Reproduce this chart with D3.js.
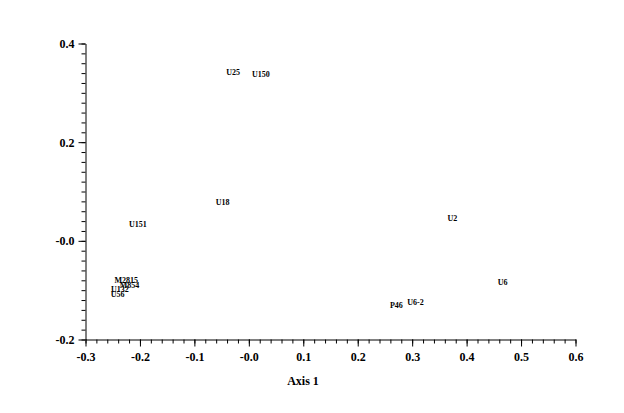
<!DOCTYPE html>
<html>
<head>
<meta charset="utf-8">
<script src="https://cdn.jsdelivr.net/npm/d3@7"></script>
<style>
html,body{margin:0;padding:0;background:#fff;}
svg{display:block;}
</style>
</head>
<body>
<svg id="chart" width="624" height="413"></svg>
<script>
// Data
const labels = ["U25","U150","U18","U151","U2","U6","P46","U6-2","M2815","M854","U132","U56"];
const axis1 =  [-0.029, 0.022, -0.048, -0.204, 0.374, 0.466, 0.271, 0.306, -0.225, -0.219, -0.237, -0.241];
const axis2 =  [0.342, 0.338, 0.078, 0.034, 0.046, -0.084, -0.131, -0.125, -0.080, -0.090, -0.099, -0.109];
const xTickValues = [-0.3,-0.2,-0.1,0,0.1,0.2,0.3,0.4,0.5,0.6];
const xTickLabels = ["-0.3","-0.2","-0.1","-0.0","0.1","0.2","0.3","0.4","0.5","0.6"];
const yTickValues = [-0.2,0,0.2,0.4];
const yTickLabels = ["-0.2","-0.0","0.2","0.4"];
const xMinor = d3.range(0,46).map(i => -0.3 + i*0.02);
const yMinor = d3.range(0,31).map(i => -0.2 + i*0.02);

const svg = d3.select("#chart");
const x = d3.scaleLinear().domain([-0.3,0.6]).range([85.5,575.5]);
const y = d3.scaleLinear().domain([-0.2,0.4]).range([339.5,43.5]);
const font = "'Liberation Serif','Times New Roman',serif";

// minor ticks
svg.append("g").attr("transform","translate(0,339.5)")
  .call(d3.axisBottom(x).tickValues(xMinor).tickSize(4).tickFormat(""))
  .call(g=>g.select(".domain").remove());
svg.append("g").attr("transform","translate(85.5,0)")
  .call(d3.axisLeft(y).tickValues(yMinor).tickSize(4).tickFormat(""))
  .call(g=>g.select(".domain").remove());

// major axes
const xAxis = svg.append("g").attr("transform","translate(0,339.5)")
  .call(d3.axisBottom(x).tickValues(xTickValues).tickSizeInner(7).tickSizeOuter(0).tickPadding(6)
    .tickFormat((d,i)=>xTickLabels[i]));
const yAxis = svg.append("g").attr("transform","translate(85.5,0)")
  .call(d3.axisLeft(y).tickValues(yTickValues).tickSizeInner(7).tickSizeOuter(0).tickPadding(4)
    .tickFormat((d,i)=>yTickLabels[i]));
[xAxis,yAxis].forEach(g=>{
  g.selectAll("text").attr("font-family",font).attr("font-size",12).attr("font-weight","bold").attr("fill","#000");
  g.selectAll("line,path").attr("stroke","#000");
});
svg.selectAll(".tick line").attr("stroke","#000");

svg.append("text").attr("x",303).attr("y",385).attr("text-anchor","middle")
  .attr("font-family",font).attr("font-size",12).attr("font-weight","bold").text("Axis 1");

// point labels
svg.append("g").selectAll("text").data(labels).join("text")
  .attr("x",(d,i)=>x(axis1[i]))
  .attr("y",(d,i)=>y(axis2[i]))
  .attr("dy","0.35em")
  .attr("text-anchor","middle")
  .attr("font-family",font).attr("font-size",8).attr("font-weight","bold").attr("fill","#000")
  .text(d=>d);
</script>
</body>
</html>
